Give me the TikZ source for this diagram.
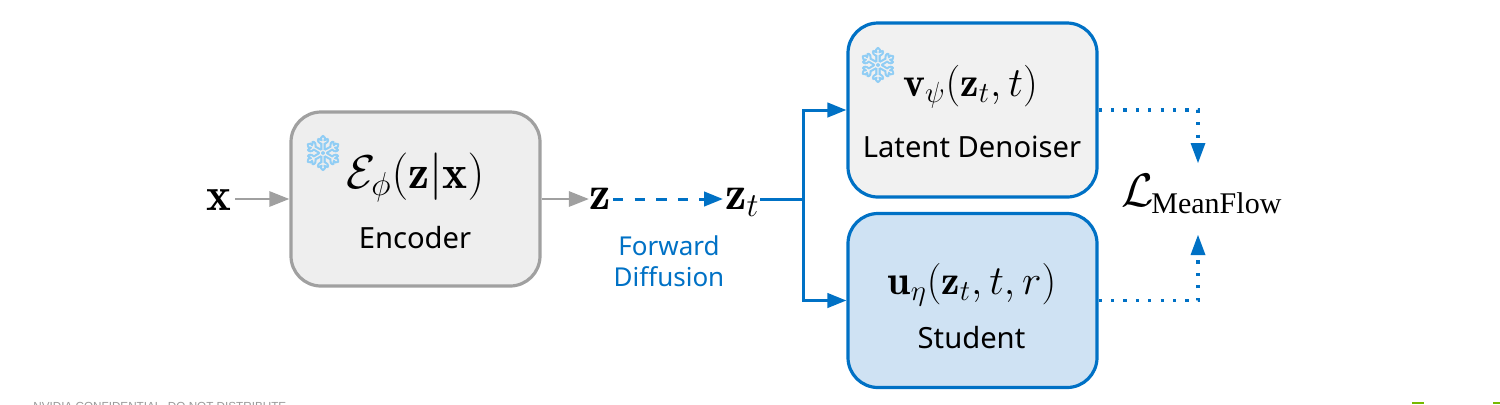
\RequirePackage{fix-cm}
\documentclass[tikz,border=0pt]{standalone}
\usepackage{amsmath}
\usepackage{fontspec}
\usetikzlibrary{arrows.meta,calc}
\newfontfamily\lblfont{Noto Sans}
\newfontfamily\snowfont[FakeBold=1.5]{Noto Emoji}
\newfontfamily\lossfont{Liberation Serif}
\newfontfamily\footfont{Liberation Sans}
\definecolor{nvblue}{HTML}{0071C5}
\definecolor{nvgray}{HTML}{A0A0A0}
\definecolor{nvfill}{HTML}{EEEEEE}
\definecolor{denfill}{HTML}{F1F1F1}
\definecolor{stufill}{HTML}{CFE2F3}
\definecolor{snowblue}{HTML}{8FCDF5}
\definecolor{nvgreen}{HTML}{76B900}
\newcommand{\sz}[1]{\fontsize{#1}{#1}\selectfont}
\tikzset{
  x=0.5pt,y=-0.5pt,
  block/.style={draw,line width=1.6pt,rounded corners=15pt,minimum width=124.5pt,inner sep=0pt,anchor=center},
  graybox/.style={block,draw=nvgray,fill=nvfill,minimum height=87pt},
  bluebox/.style={block,draw=nvblue,minimum height=87pt},
  mathlbl/.style={inner sep=0pt,text=black},
  lbl/.style={inner sep=0pt,font=\lblfont\sz{14.6},text=black},
  snow/.style={inner sep=0pt,font=\snowfont\sz{17.5},text=snowblue},
  tipg/.style={-{Triangle[length=10pt,width=7.5pt]}},
  tipb/.style={-{Triangle[length=9.5pt,width=7.2pt]}},
  grayline/.style={draw=nvgray,line width=1.4pt,tipg},
  blueline/.style={draw=nvblue,line width=1.5pt},
  dotline/.style={draw=nvblue,line width=1.6pt,dash pattern=on 1.6pt off 4.6pt},
}
\begin{document}
\begin{tikzpicture}
\useasboundingbox (0,0) rectangle (1500,404);
% boxes
\node[graybox] (enc) at (415.5,199) {};
\node[bluebox,fill=denfill] (den) at (972.5,110) {};
\node[bluebox,fill=stufill] (stu) at (972.5,300.5) {};
% snowflakes
\node[snow] (s1) at (323,153) {❄};
\node[snow] (s2) at (878,65) {❄};
% box texts
\node[mathlbl] (enct) at (415.5,177) {\sz{23.7}$\mathcal{E}_{\phi}(\mathbf{z}|\mathbf{x})$};
\node[lbl] (encl) at (415,238) {Encoder};
\node[mathlbl] (dent) at (970.5,87) {\sz{20.8}$\mathbf{v}_{\psi}(\mathbf{z}_t,t)$};
\node[lbl] (denl) at (972,147) {Latent Denoiser};
\node[mathlbl] (stut) at (972,285) {\sz{20.7}$\mathbf{u}_{\eta}(\mathbf{z}_t,t,r)$};
\node[lbl] (stul) at (971.5,337.5) {Student};
% variables
\node[mathlbl] (x) at (218.5,200) {\sz{23.5}$\mathbf{x}$};
\node[mathlbl] (z) at (600,199) {\sz{24}$\mathbf{z}$};
\node[mathlbl,anchor=west] (zt) at (725,202) {\sz{24}$\mathbf{z}_t$};
\node[mathlbl,anchor=west] (loss) at (1121,194) {\sz{23.5}$\mathcal{L}_{\hspace{-1.2pt}\hbox{\lossfont\sz{15}MeanFlow}}$};
\node[inner sep=0pt,align=center,font=\lblfont\sz{13},text=nvblue] (fd) at (669,265) {\strut Forward\\[0.5pt]\strut Diffusion};
% junctions
\coordinate (j) at (803,199);
\coordinate (jd) at (803,110);
\coordinate (ju) at (803,300.5);
\coordinate (cd) at (1198,110);
\coordinate (cu) at (1198,300.5);
\coordinate (ltop) at (1198,163);
\coordinate (lbot) at (1198,235);
% gray arrows
\draw[grayline,shorten <=2pt] (x.east |- enc.west) -- (enc.west);
\draw[grayline] (enc.east) -- (z.west);
% blue
\draw[blueline,dash pattern=on 5.2pt off 5.6pt,-{Triangle[length=9.5pt,width=7.2pt]},shorten >=1pt,shorten <=1pt] (z.east) -- (zt.west |- z.east);
\draw[blueline] (zt.east |- j) -- (j);
\draw[blueline,tipb] (j) -- (jd) -- (den.west);
\draw[blueline,tipb] (j) -- (ju) -- (stu.west);
% dotted
\draw[dotline] (den.east) -- (cd) -- ($(ltop)+(0,-20)$);
\draw[draw=none,fill=nvblue] (ltop) -- ++(-7.5,-20) -- ++(15,0) -- cycle;
\draw[dotline] (stu.east) -- (cu) -- ($(lbot)+(0,20)$);
\draw[draw=none,fill=nvblue] (lbot) -- ++(-7.5,20) -- ++(15,0) -- cycle;
% footer cut off at the image edge
\begin{scope}
\clip (0,0) rectangle (1500,404);
\node[anchor=north west,inner sep=0pt,font=\footfont\sz{5.85},text=black!40] (foot) at (33,401.6) {NVIDIA CONFIDENTIAL. DO NOT DISTRIBUTE.};
\fill[nvgreen] (1412,401.8) rectangle (1424,404);
\fill[nvgreen] (1493,401.8) rectangle (1500,404);
\end{scope}
\end{tikzpicture}
\end{document}
